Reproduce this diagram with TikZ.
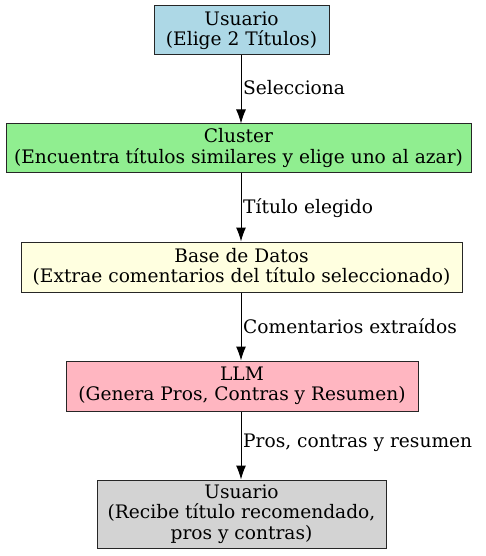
\documentclass[tikz,border=0pt]{standalone}
\usepackage{fontspec}
\setmainfont{DejaVu Serif}
\usetikzlibrary{arrows.meta}
\begin{document}
\begin{tikzpicture}[x=1pt,y=-1pt,
  box/.style={draw=black!85,line width=1pt,inner sep=0pt,align=center,font=\fontsize{18.6}{20.5}\selectfont},
  lbl/.style={anchor=west,inner sep=0pt,font=\fontsize{18.6}{20.5}\selectfont},
  arr/.style={line width=1pt,-{Latex[length=14pt,width=10pt]}}]
\useasboundingbox (0,0) rectangle (485,556);
\node[box,fill={rgb,255:red,173;green,216;blue,230},minimum width=175pt,minimum height=49pt] (u1) at (241.5,30.5) {Usuario\\(Elige 2 Títulos)};
\node[box,fill={rgb,255:red,144;green,238;blue,144},minimum width=465pt,minimum height=48pt] (cl) at (238.5,148) {Cluster\\(Encuentra títulos similares y elige uno al azar)};
\node[box,fill={rgb,255:red,255;green,255;blue,224},minimum width=441pt,minimum height=50pt] (db) at (241.5,267) {Base de Datos\\(Extrae comentarios del título seleccionado)};
\node[box,fill={rgb,255:red,255;green,182;blue,193},minimum width=352pt,minimum height=50pt] (llm) at (242,386) {LLM\\(Genera Pros, Contras y Resumen)};
\node[box,fill={rgb,255:red,211;green,211;blue,211},minimum width=289pt,minimum height=68pt] (u2) at (241.5,514) {Usuario\\(Recibe título recomendado,\\pros y contras)};
\coordinate (ax) at (241,0);
\draw[arr] (u1.south -| ax) -- (cl.north -| ax);
\draw[arr] (cl.south -| ax) -- (db.north -| ax);
\draw[arr] (db.south -| ax) -- (llm.north -| ax);
\draw[arr] (llm.south -| ax) -- (u2.north -| ax);
\node[lbl] (l1) at (243,88) {Selecciona};
\node[lbl] (l2) at (243,208) {Título elegido};
\node[lbl] (l3) at (243,326) {Comentarios extraídos};
\node[lbl] (l4) at (243,443) {Pros, contras y resumen};
\end{tikzpicture}
\end{document}
